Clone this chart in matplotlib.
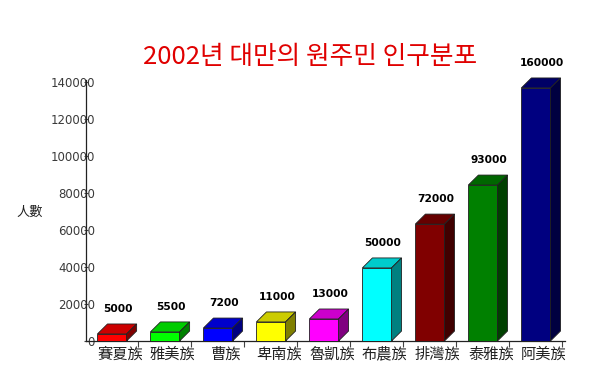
import matplotlib.pyplot as plt
from matplotlib.patches import Polygon
from matplotlib.colors import to_rgb

plt.rcParams['font.family'] = ['Noto Sans CJK TC', 'DejaVu Sans']

# 2002 Taiwan aboriginal population (as drawn in the picture)
tribes = ['賽夏族', '雅美族', '曹族', '卑南族', '魯凱族', '布農族', '排灣族', '泰雅族', '阿美族']
value_labels = ['5000', '5500', '7200', '11000', '13000', '50000', '72000', '93000', '160000']
# bar heights as they sit against the y axis of the picture
bar_heights = [3800, 4900, 7000, 10300, 11900, 39500, 63200, 84300, 136800]
colors = ['#FF0000', '#00FF00', '#0000FF', '#FFFF00', '#FF00FF',
          '#00FFFF', '#800000', '#008000', '#000080']
yticks = [0, 20000, 40000, 60000, 80000, 100000, 120000, 140000]

fig = plt.figure(figsize=(5.9, 3.78), dpi=100)
ax = fig.add_axes([0.1458, 0.0979, 0.8119, 0.690])
ax.set_xlim(-0.49, 8.55)
ax.set_ylim(0, 141000)

width = 0.55
dx = 0.19      # depth offset in x (data units)
dy = 5400      # depth offset in y (data units)


def shade(c, f):
    r, g, b = to_rgb(c)
    return (r * f, g * f, b * f)


for i, (h, c) in enumerate(zip(bar_heights, colors)):
    x0 = i - width / 2
    x1 = i + width / 2
    ax.bar(i, h, width=width, color=c, edgecolor='#202020', linewidth=0.6, zorder=3)
    top = Polygon([(x0, h), (x1, h), (x1 + dx, h + dy), (x0 + dx, h + dy)],
                  closed=True, facecolor=shade(c, 0.8), edgecolor='#202020',
                  linewidth=0.6, zorder=3, clip_on=False)
    side = Polygon([(x1, 0), (x1 + dx, dy), (x1 + dx, h + dy), (x1, h)],
                   closed=True, facecolor=shade(c, 0.5), edgecolor='#202020',
                   linewidth=0.6, zorder=3, clip_on=False)
    ax.add_patch(top)
    ax.add_patch(side)
    ax.text(i + dx / 2 + 0.02, h + dy + 5500, value_labels[i], ha='center', va='bottom',
            fontsize=7.7, fontweight='bold', family='DejaVu Sans', clip_on=False)

# category labels
for i, t in enumerate(tribes):
    ax.text(i + 0.15, -7000, t, ha='center', va='center', fontsize=11, color='#222222',
            fontweight='light')

ax.set_xticks([i + 0.5 for i in range(9)])
ax.set_xticklabels([])
ax.tick_params(axis='x', length=4, direction='out', color='#444444')

ax.set_yticks(yticks)
ax.set_yticklabels([str(v) for v in yticks], family='DejaVu Sans', fontsize=8.5, color='#3a3a3a')
ax.tick_params(axis='y', length=3, direction='inout', pad=-8, color='#444444')

for s in ['top', 'right']:
    ax.spines[s].set_visible(False)
for s in ['left', 'bottom']:
    ax.spines[s].set_color('#222222')
    ax.spines[s].set_linewidth(0.9)

fig.text(0.05, 1 - 212 / 378, '人數', ha='center', va='center', fontsize=9.5, color='#222222',
         fontweight='light')
fig.text(0.525, 1 - 57 / 378, '2002년 대만의 원주민 인구분포', ha='center', va='center',
         fontsize=18.5, color='#E00000', fontweight='light',
         family=['Noto Sans CJK KR', 'DejaVu Sans'])

fig.savefig('out.png', dpi=100)
